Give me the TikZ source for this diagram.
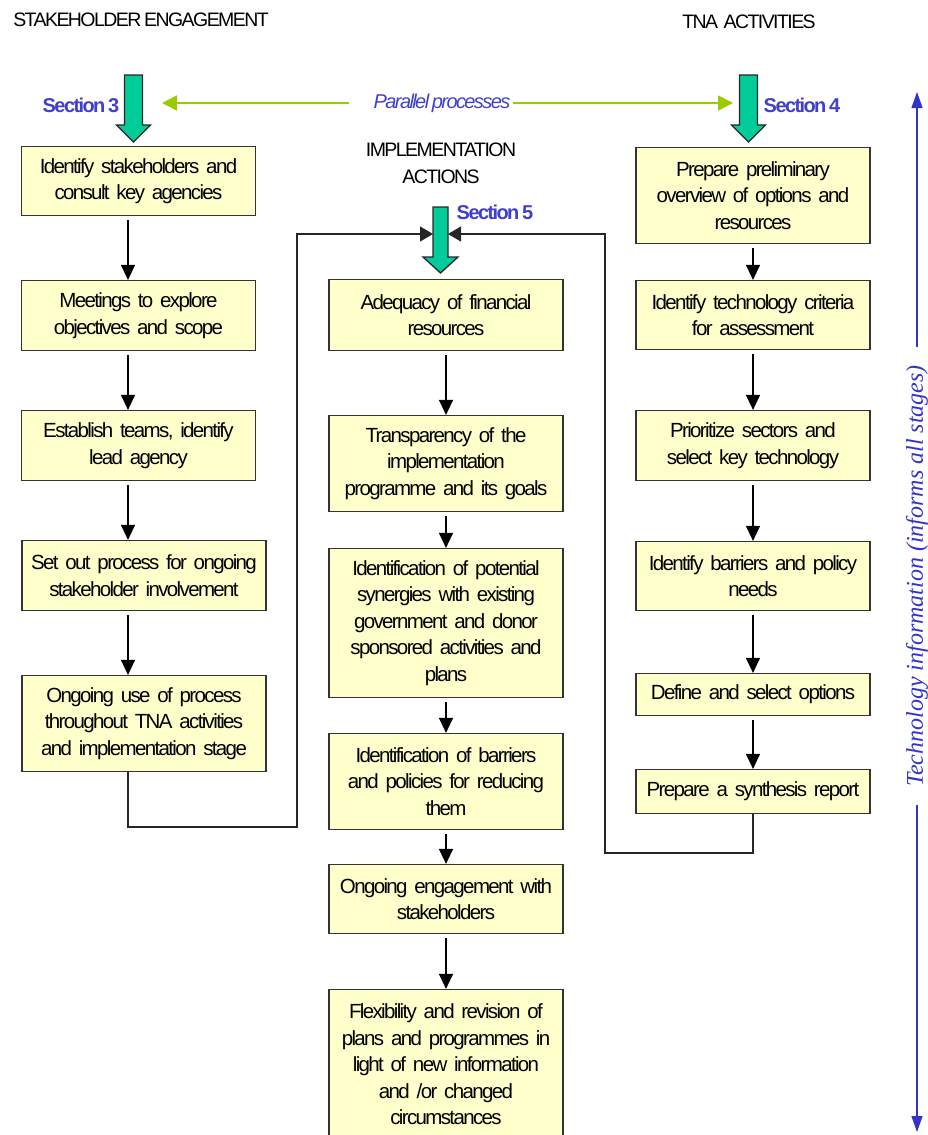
\documentclass[tikz,border=0pt]{standalone}
\usepackage{fontspec}
\setmainfont{Liberation Sans}[LetterSpace=-8, WordSpace=0.7]
\newfontfamily\serifinfo{Liberation Serif}
\usepackage{xcolor}
\usepackage{tikz}
\usetikzlibrary{arrows.meta,calc}
\definecolor{fundocaixa}{HTML}{FFFFCC}
\definecolor{verdebloco}{HTML}{00CC99}
\definecolor{verdelinha}{HTML}{99CC00}
\definecolor{azulsecao}{HTML}{4040CC}
\definecolor{azulinfo}{HTML}{3333CC}
\tikzset{
    caixa/.style={
        rectangle,
        draw=black!80,
        line width=1.2pt,
        fill=fundocaixa,
        align=center,
        inner sep=0pt,
        text width=232pt,
        minimum width=234pt,
        font=\fontsize{20.5}{26.5}\selectfont
    },
    larga/.style={caixa, text width=242pt, minimum width=244pt},
    titulo/.style={font=\fontsize{19.5}{27}\selectfont, align=center, inner sep=0pt},
    secao/.style={font=\fontsize{20}{24}\selectfont\bfseries, text=azulsecao, inner sep=0pt},
    paralelo/.style={font=\fontsize{20}{24}\selectfont\itshape, text=azulsecao, inner sep=2pt},
    info/.style={font=\fontsize{24}{28}\selectfont\serifinfo\itshape, text=azulinfo,
        rotate=90, inner sep=18pt},
    fluxo/.style={-{Triangle[length=15pt,width=14pt]}, line width=1.3pt, shorten <=4pt},
    retorno/.style={-{Triangle[length=13pt,width=15pt]}, line width=1.3pt, draw=black!85},
    bloco/.style={draw=black!85, line width=1.3pt, fill=verdebloco, line join=miter},
    linhaparalela/.style={-{Triangle[length=15pt,width=15pt]}, line width=1.6pt, draw=verdelinha},
    setainfo/.style={-{Triangle[length=16pt,width=11pt]}, line width=1.3pt, draw=azulinfo}
}

\begin{document}
\begin{tikzpicture}[x=1pt, y=-1pt]
    \useasboundingbox (0,0) rectangle (928,1135);

    % titulos das colunas
    \node[titulo] (tituloE) at (141,20) {STAKEHOLDER ENGAGEMENT};
    \node[titulo] (tituloD) at (749,22) {TNA\ \ ACTIVITIES};
    \node[titulo] (tituloM) at (441,163) {IMPLEMENTATION\\ACTIONS};

    % etapas - stakeholder engagement
    \node[caixa] (e1) at (138.5,181) [minimum height=69pt]
        {Identify stakeholders and\\consult key agencies};
    \node[caixa] (e2) at (138.5,315.5) [minimum height=70pt]
        {Meetings to explore\\objectives and scope};
    \node[caixa] (e3) at (138.5,445.5) [minimum height=70pt]
        {Establish teams, identify\\lead agency};
    \node[larga] (e4) at (144,575.5) [minimum height=70pt]
        {Set out process for ongoing\\stakeholder involvement};
    \node[larga] (e5) at (144,723.5) [minimum height=96pt]
        {Ongoing use of process\\throughout TNA activities\\and implementation stage};

    % etapas - implementation actions
    \node[caixa] (m1) at (446,315) [minimum height=71pt]
        {Adequacy of financial\\resources};
    \node[caixa] (m2) at (446,463.5) [minimum height=96pt]
        {Transparency of the\\implementation\\programme and its goals};
    \node[caixa] (m3) at (446,623) [minimum height=149pt]
        {Identification of potential\\synergies with existing\\government and donor\\sponsored activities and\\plans};
    \node[caixa] (m4) at (446,781.5) [minimum height=96pt]
        {Identification of barriers\\and policies for reducing\\them};
    \node[caixa] (m5) at (446,899) [minimum height=69pt]
        {Ongoing engagement with\\stakeholders};
    \node[caixa] (m6) at (446,1064.5) [minimum height=150pt]
        {Flexibility and revision of\\plans and programmes in\\light of new information\\and /or changed\\circumstances};

    % etapas - TNA activities
    \node[caixa] (d1) at (753,195.5) [minimum height=96pt]
        {Prepare preliminary\\overview of options and\\resources};
    \node[caixa] (d2) at (753,315) [minimum height=69pt]
        {Identify technology criteria\\for assessment};
    \node[caixa] (d3) at (753,445.5) [minimum height=70pt]
        {Prioritize sectors and\\select key technology};
    \node[caixa] (d4) at (753,576) [minimum height=69pt]
        {Identify barriers and policy\\needs};
    \node[caixa] (d5) at (753,694.5) [minimum height=42pt]
        {Define and select options};
    \node[caixa] (d6) at (753,791.5) [minimum height=44pt]
        {Prepare a synthesis report};

    % secoes e setas de entrada
    \node[secao] (s3) at (81,105) {Section 3};
    \node[secao] (s4) at (802,105) {Section 4};
    \node[secao] (s5) at (495,212) {Section 5};
    \coordinate (ponta3) at (133.5,142);
    \coordinate (ponta4) at (748.5,142);
    \coordinate (ponta5) at (440.5,273);
    \draw[bloco] (ponta3) -- ++(-17,-17) -- ++(8,0) -- ++(0,-50) -- ++(18,0)
        -- ++(0,50) -- ++(8,0) -- cycle;
    \draw[bloco] (ponta4) -- ++(-17,-17) -- ++(8,0) -- ++(0,-50) -- ++(18,0)
        -- ++(0,50) -- ++(8,0) -- cycle;
    \draw[bloco] (ponta5) -- ++(-17.5,-16) -- ++(10,0) -- ++(0,-50) -- ++(15,0)
        -- ++(0,50) -- ++(10,0) -- cycle;

    % processos paralelos
    \node[paralelo] (paralelo) at (442,103) {Parallel processes};
    \coordinate (chegada3) at (162,103);
    \coordinate (chegada4) at (733,103);
    \draw[linhaparalela] (paralelo.west) ++(-22,0) -- (chegada3);
    \draw[linhaparalela] (paralelo.east) -- (chegada4);

    % fluxos verticais
    \coordinate (xe) at (128,0);
    \coordinate (xm) at (446,0);
    \coordinate (xd) at (753,0);
    \foreach \a/\b in {e1/e2, e2/e3, e3/e4, e4/e5}
        \draw[fluxo] (\a.south -| xe) -- (\b.north -| xe);
    \foreach \a/\b in {m1/m2, m2/m3, m3/m4, m4/m5, m5/m6}
        \draw[fluxo] (\a.south -| xm) -- (\b.north -| xm);
    \foreach \a/\b in {d1/d2, d2/d3, d3/d4, d4/d5, d5/d6}
        \draw[fluxo] (\a.south -| xd) -- (\b.north -| xd);

    % retornos para a secao 5
    \coordinate (cantoE) at (297,827);
    \coordinate (cantoD) at (605,853);
    \coordinate (entradaE) at (433,234);
    \coordinate (entradaD) at (448,234);
    \draw[retorno] (e5.south -| xe) |- (cantoE) |- (entradaE);
    \draw[retorno] (d6.south -| xd) |- (cantoD) |- (entradaD);

    % informacao tecnologica
    \node[info] (info) at (917,576) {Technology information (informs all stages)};
    \coordinate (topoinfo) at (917,92);
    \coordinate (baseinfo) at (917,1132);
    \draw[setainfo] (info.east) -- (topoinfo);
    \draw[setainfo] (info.west) -- (baseinfo);
\end{tikzpicture}
\end{document}
